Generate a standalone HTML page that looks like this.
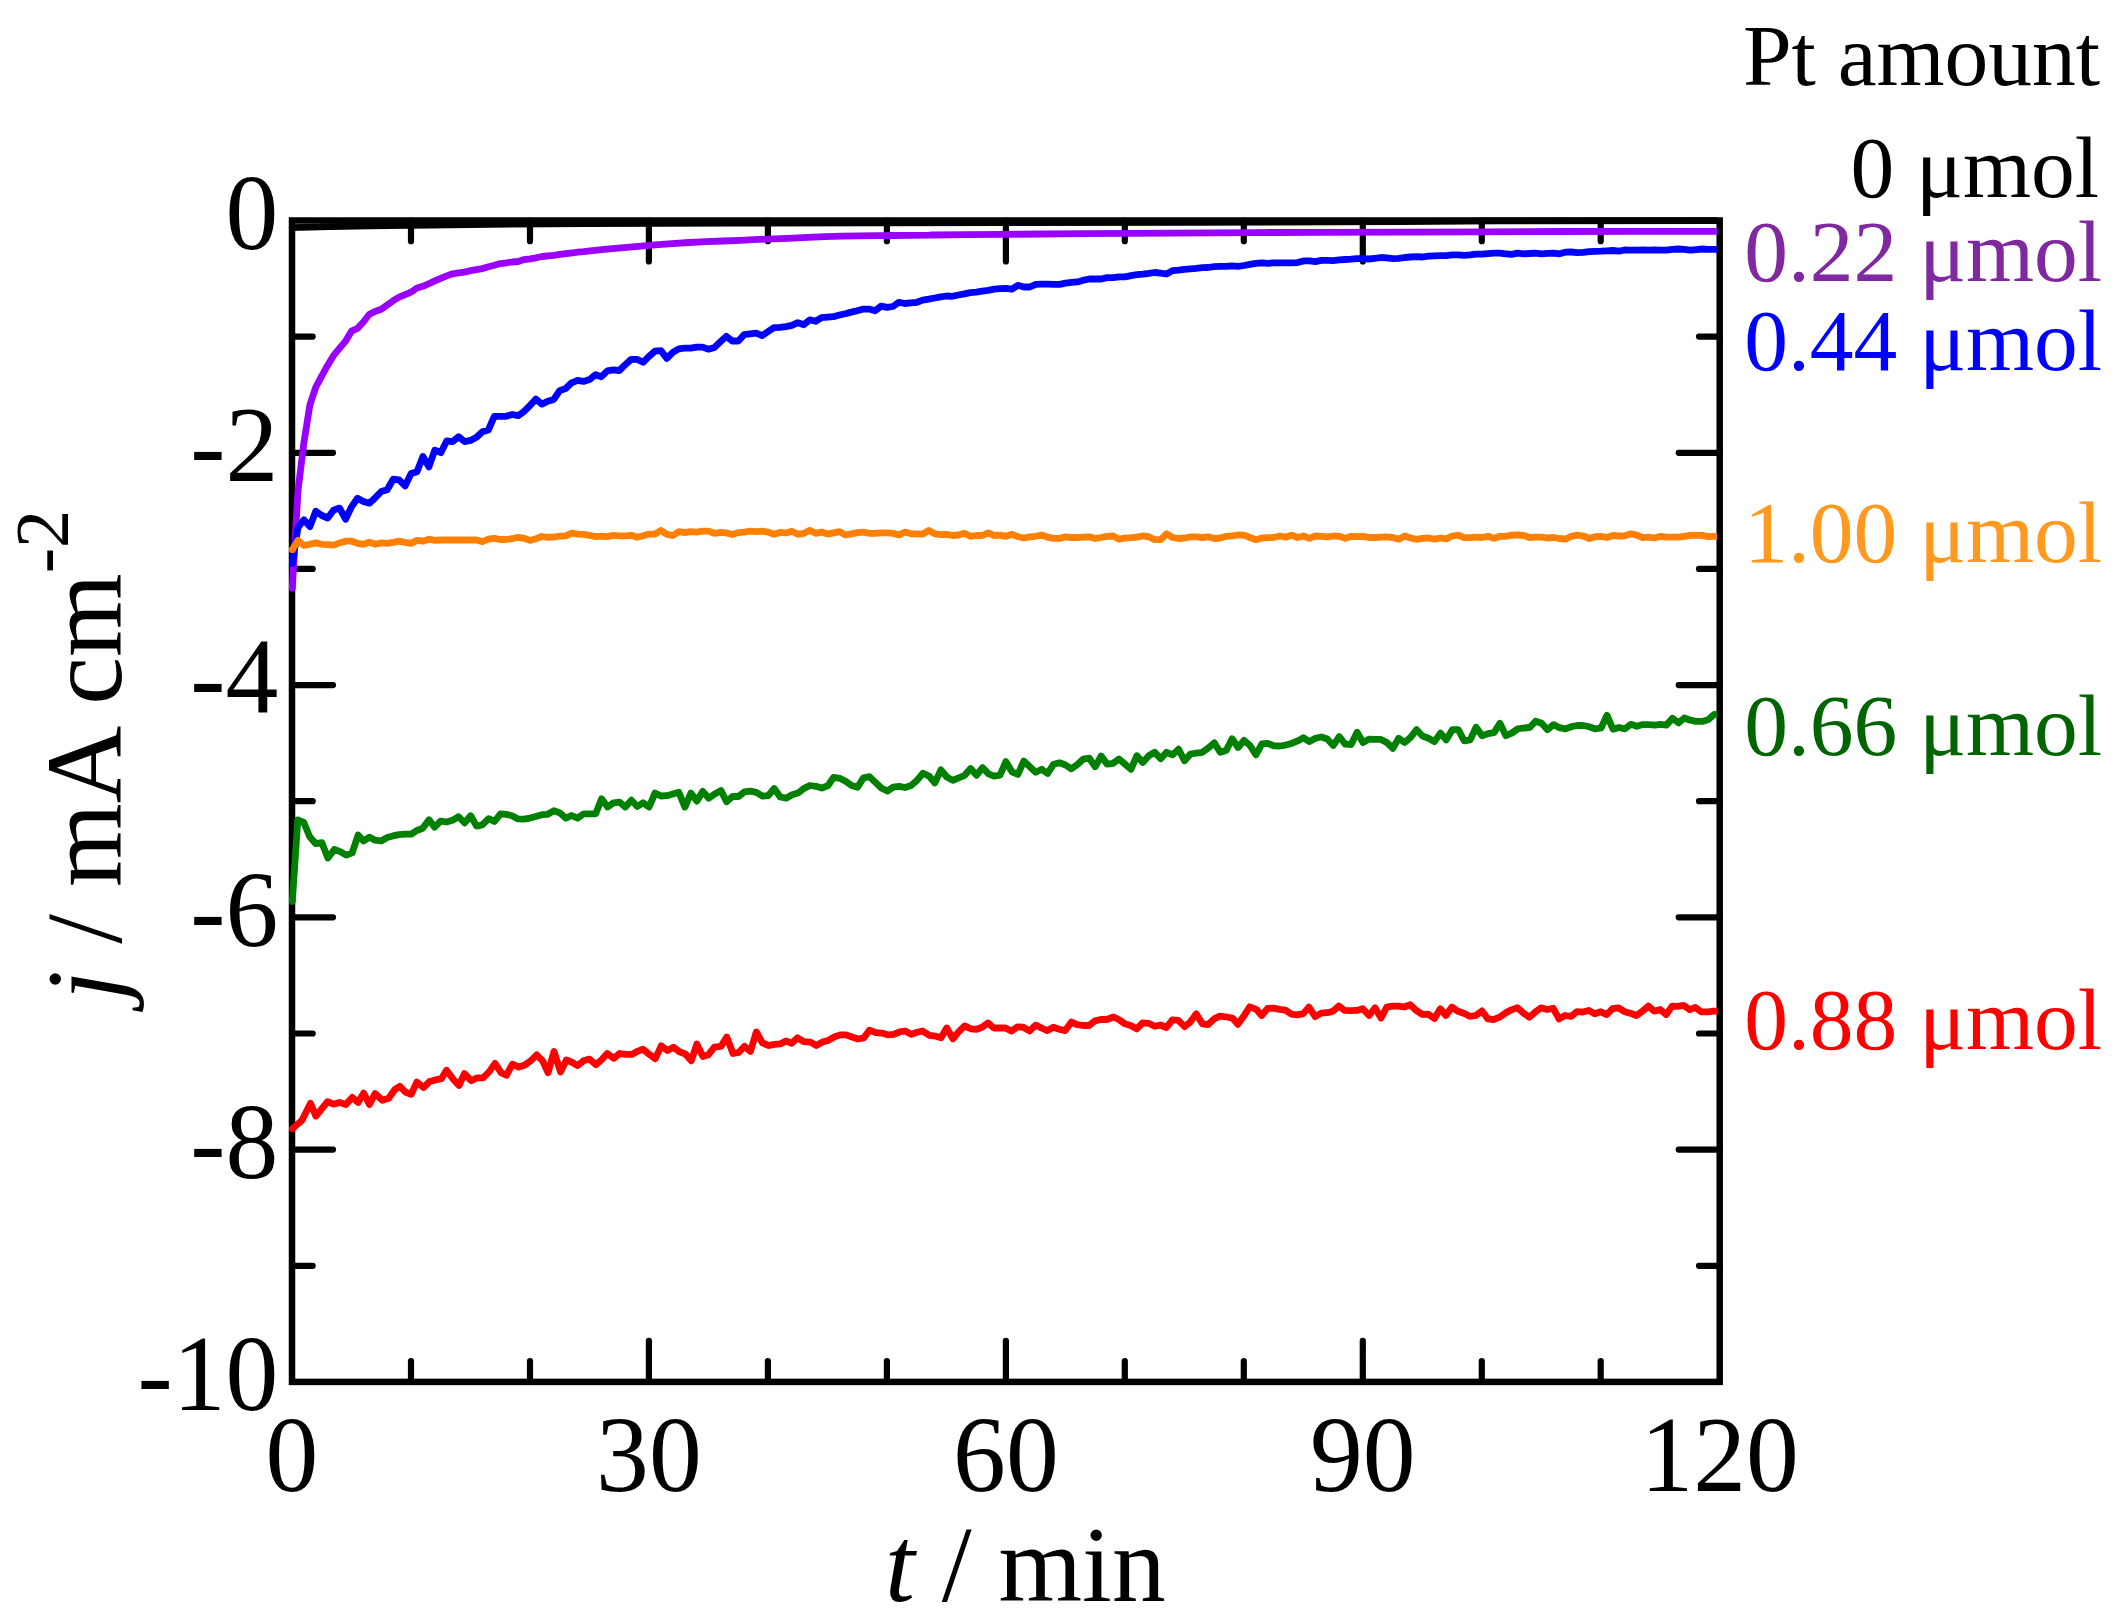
<!DOCTYPE html>
<html><head><meta charset="utf-8"><title>Chronoamperometry</title>
<style>html,body{margin:0;padding:0;background:#fff}svg{display:block}</style></head>
<body>
<svg width="2117" height="1623" viewBox="0 0 2117 1623">
<rect width="2117" height="1623" fill="#fff"/>
<path d="M411.0 1381.9V1361.2M411.0 220.5V241.2M530.0 1381.9V1361.2M530.0 220.5V241.2M648.9 1381.9V1340.9M648.9 220.5V261.5M767.9 1381.9V1361.2M767.9 220.5V241.2M886.9 1381.9V1361.2M886.9 220.5V241.2M1005.9 1381.9V1340.9M1005.9 220.5V261.5M1124.8 1381.9V1361.2M1124.8 220.5V241.2M1243.8 1381.9V1361.2M1243.8 220.5V241.2M1362.8 1381.9V1340.9M1362.8 220.5V261.5M1481.8 1381.9V1361.2M1481.8 220.5V241.2M1600.7 1381.9V1361.2M1600.7 220.5V241.2M292.0 336.6H312.7M1719.7 336.6H1699.0M292.0 452.8H333.0M1719.7 452.8H1678.7M292.0 568.9H312.7M1719.7 568.9H1699.0M292.0 685.1H333.0M1719.7 685.1H1678.7M292.0 801.2H312.7M1719.7 801.2H1699.0M292.0 917.3H333.0M1719.7 917.3H1678.7M292.0 1033.5H312.7M1719.7 1033.5H1699.0M292.0 1149.6H333.0M1719.7 1149.6H1678.7M292.0 1265.8H312.7M1719.7 1265.8H1699.0" stroke="#000" stroke-width="6.2" stroke-linecap="round" fill="none"/>
<rect x="292.0" y="220.5" width="1427.7" height="1161.4" fill="none" stroke="#000" stroke-width="6.5"/>
<path d="M292.3 227.6 L300.0 227.3 L330.0 226.6 L370.0 225.9 L430.0 225.1 L510.0 224.2 L585.0 223.6 L740.0 223.1 L1000.0 222.7 L1200.0 222.4 L1400.0 221.6 L1500.0 220.9 L1717.2 220.6" stroke="#000000" stroke-width="6.8" stroke-linejoin="round" stroke-linecap="butt" fill="none"/>
<circle cx="292.3" cy="227.6" r="3.4" fill="#000000"/>
<path d="M292.3 588.3 L298.0 490.6 L303.9 442.7 L309.9 404.9 L315.8 387.2 L321.8 375.8 L327.7 365.2 L333.7 355.3 L339.6 348.2 L345.6 341.1 L351.5 331.2 L357.5 328.4 L363.4 322.0 L369.4 314.2 L375.3 311.4 L381.3 309.2 L387.2 305.0 L393.2 300.7 L399.1 297.2 L405.1 294.6 L411.0 292.2 L417.0 288.0 L422.9 286.3 L428.9 283.7 L434.8 280.9 L440.8 278.3 L446.7 275.9 L452.7 273.8 L458.7 272.8 L464.6 272.1 L470.6 270.6 L476.5 269.6 L482.5 268.6 L488.4 266.7 L494.4 265.3 L500.3 263.6 L506.3 262.9 L512.2 262.0 L518.2 261.5 L524.1 259.6 L530.1 258.9 L536.0 257.8 L542.0 256.5 L547.9 255.8 L553.9 255.4 L559.8 254.4 L565.8 253.7 L571.7 253.0 L577.7 252.1 L583.6 251.6 L590.4 250.8 L604.0 249.3 L621.0 247.8 L638.0 246.3 L655.0 244.9 L668.6 243.9 L689.0 242.5 L706.0 241.7 L723.0 241.0 L740.1 240.3 L753.7 239.6 L767.3 239.1 L787.7 238.3 L808.1 237.4 L825.1 236.7 L842.1 236.2 L859.1 235.9 L876.1 235.7 L893.1 235.5 L910.1 235.4 L928.8 235.2 L932.0 235.0 L966.0 234.7 L1000.0 234.4 L1042.5 234.0 L1085.1 233.7 L1127.6 233.4 L1170.1 233.2 L1212.6 232.9 L1255.1 232.6 L1273.8 232.5 L1320.0 232.3 L1400.0 232.1 L1485.0 231.8 L1560.0 231.5 L1640.0 231.4 L1717.2 231.3" stroke="#9900ff" stroke-width="6.8" stroke-linejoin="round" stroke-linecap="butt" fill="none"/>
<circle cx="292.3" cy="588.3" r="3.4" fill="#9900ff"/>
<path d="M292.3 563.6 L297.9 527.8 L303.9 519.8 L309.9 526.6 L315.8 511.2 L321.8 515.5 L327.7 518.0 L333.7 510.0 L339.6 508.1 L345.6 519.2 L351.5 506.9 L357.5 498.3 L363.4 501.4 L369.4 503.2 L375.3 497.7 L381.3 491.5 L387.2 489.7 L393.2 479.2 L399.1 479.8 L405.1 486.0 L411.0 473.6 L417.0 471.8 L422.9 456.4 L428.9 466.9 L434.8 450.2 L440.8 452.7 L446.7 441.0 L452.7 441.6 L458.6 436.7 L464.6 441.6 L470.5 440.4 L476.5 437.3 L482.4 431.7 L488.4 429.9 L494.3 416.3 L500.3 416.3 L506.2 416.3 L512.2 414.5 L518.1 415.7 L524.1 411.4 L530.0 405.5 L535.9 399.1 L541.9 404.1 L547.8 401.2 L553.8 399.4 L559.7 390.6 L565.7 388.5 L571.6 382.8 L577.6 380.4 L583.5 381.4 L589.5 379.6 L595.5 374.7 L601.4 376.7 L607.4 370.8 L613.3 369.8 L619.3 370.5 L625.2 364.8 L631.2 359.4 L637.1 359.4 L643.1 362.3 L649.0 356.3 L655.0 351.2 L660.9 350.7 L666.9 358.4 L672.8 352.4 L678.8 348.8 L684.7 348.1 L690.7 348.1 L696.6 347.1 L702.6 347.1 L708.5 349.2 L714.5 347.4 L720.4 341.7 L726.4 336.3 L732.3 341.0 L738.3 341.0 L744.2 334.6 L750.2 333.9 L756.2 333.2 L762.1 335.6 L768.1 331.5 L774.0 327.6 L780.0 327.3 L785.9 326.6 L791.9 325.4 L797.8 322.6 L803.8 324.7 L809.7 319.8 L815.6 321.3 L821.5 317.6 L827.5 317.1 L833.4 316.7 L839.4 315.0 L845.3 313.7 L851.3 312.1 L857.2 310.8 L863.2 309.1 L869.1 309.1 L875.1 310.8 L881.0 306.2 L887.0 307.4 L892.9 306.5 L898.9 302.3 L904.9 303.5 L910.8 302.8 L916.8 302.3 L922.7 300.1 L928.7 299.2 L934.6 298.0 L940.6 296.8 L946.5 296.0 L952.5 296.3 L958.4 295.0 L964.4 293.8 L970.3 292.6 L976.3 292.1 L982.2 291.2 L988.2 290.4 L994.1 289.2 L1000.1 288.7 L1006.0 288.3 L1012.0 289.2 L1017.9 285.3 L1023.9 287.0 L1029.8 287.0 L1035.8 284.4 L1041.7 284.1 L1047.7 284.1 L1053.6 284.4 L1059.6 284.4 L1065.6 283.1 L1071.5 282.4 L1077.5 281.9 L1083.4 280.2 L1089.4 279.0 L1095.3 279.0 L1101.3 279.0 L1107.2 277.6 L1113.2 277.6 L1119.1 276.8 L1125.1 276.8 L1131.0 275.6 L1137.0 274.7 L1142.9 274.2 L1148.9 273.4 L1154.8 272.5 L1160.6 273.1 L1166.5 274.0 L1172.5 270.6 L1178.4 270.1 L1184.4 269.4 L1190.3 268.9 L1196.3 268.4 L1202.2 267.7 L1208.2 267.5 L1214.1 266.7 L1220.1 266.3 L1226.0 266.3 L1232.0 265.8 L1237.9 266.3 L1243.9 265.5 L1249.9 264.3 L1255.8 263.3 L1261.8 262.9 L1267.7 263.3 L1273.7 262.9 L1279.6 262.9 L1285.6 262.9 L1291.5 262.9 L1297.5 262.6 L1303.4 260.9 L1309.4 260.9 L1315.3 261.6 L1321.3 260.4 L1327.2 260.4 L1333.2 260.7 L1339.1 259.9 L1345.1 259.5 L1351.0 259.2 L1357.0 258.7 L1362.9 258.7 L1368.9 259.0 L1374.8 258.3 L1380.8 257.5 L1386.7 257.8 L1392.7 258.7 L1398.6 258.3 L1404.6 257.5 L1410.6 257.0 L1416.5 256.6 L1422.5 257.0 L1428.4 256.1 L1434.4 255.8 L1440.3 255.6 L1446.3 255.6 L1452.2 254.8 L1458.2 254.8 L1464.1 255.3 L1470.1 254.8 L1476.0 254.1 L1482.0 254.1 L1487.9 253.6 L1493.9 253.2 L1499.8 253.2 L1505.8 253.8 L1511.7 254.4 L1517.7 253.2 L1523.6 253.8 L1529.6 253.5 L1535.5 253.2 L1541.5 253.8 L1547.4 253.4 L1553.4 253.2 L1559.4 253.8 L1565.3 252.2 L1571.3 252.0 L1577.2 252.6 L1583.2 252.4 L1589.1 251.6 L1595.1 251.4 L1601.0 251.2 L1607.0 250.8 L1612.9 250.5 L1618.9 251.1 L1624.8 250.0 L1630.8 250.2 L1636.7 250.2 L1642.7 250.0 L1648.6 250.2 L1654.6 250.0 L1660.5 250.2 L1666.5 250.2 L1672.4 249.4 L1678.4 249.0 L1684.3 249.3 L1690.3 250.2 L1696.2 249.6 L1702.2 249.0 L1708.1 249.4 L1714.1 249.4 L1717.2 249.4" stroke="#0000ff" stroke-width="6.8" stroke-linejoin="round" stroke-linecap="butt" fill="none"/>
<circle cx="292.3" cy="563.6" r="3.4" fill="#0000ff"/>
<path d="M292.3 901.4 L297.8 819.8 L303.7 822.3 L309.7 836.8 L315.6 843.6 L321.9 842.7 L327.9 858.0 L334.3 849.5 L340.3 851.6 L346.2 855.1 L352.2 852.9 L358.1 835.1 L363.6 841.0 L369.5 837.1 L375.1 840.2 L381.1 841.0 L387.0 837.6 L393.0 835.9 L398.9 834.6 L404.9 834.2 L411.2 834.2 L416.8 830.5 L422.7 828.3 L429.0 819.8 L434.6 827.1 L440.6 821.1 L446.5 822.0 L452.5 820.3 L458.5 816.7 L464.7 822.8 L470.7 815.8 L476.6 826.1 L482.3 824.9 L488.6 818.6 L494.5 821.5 L500.5 813.8 L506.1 814.3 L512.0 815.8 L518.0 818.9 L523.9 819.2 L529.9 818.1 L535.8 816.4 L541.8 814.7 L547.7 814.3 L554.0 810.7 L560.0 813.0 L565.9 818.1 L571.5 815.5 L577.5 818.1 L583.8 813.8 L589.4 813.8 L595.7 813.8 L601.6 798.8 L607.6 807.0 L613.5 802.8 L619.5 802.2 L625.4 807.0 L631.4 800.2 L637.3 806.5 L643.0 802.8 L649.0 807.1 L655.0 793.1 L660.9 796.0 L666.9 795.7 L672.9 794.0 L678.8 792.3 L684.9 807.1 L690.9 793.1 L696.8 801.1 L702.8 791.4 L708.7 798.2 L714.7 794.0 L721.0 790.6 L726.6 801.6 L732.5 796.5 L738.5 796.5 L744.4 791.8 L750.4 791.1 L756.3 792.3 L762.6 796.2 L768.3 795.7 L774.2 788.5 L780.2 797.0 L786.1 798.2 L792.1 794.8 L798.0 793.1 L804.0 788.4 L809.9 785.5 L815.9 786.3 L821.8 788.0 L827.8 785.8 L833.7 777.3 L839.7 778.3 L845.6 781.2 L851.6 785.5 L857.5 787.2 L863.5 777.8 L869.4 776.6 L875.4 782.4 L881.3 788.0 L887.3 791.1 L893.2 787.2 L899.2 786.3 L905.1 787.5 L911.1 785.5 L917.0 780.4 L923.0 773.2 L929.0 776.1 L934.9 782.9 L940.9 769.8 L946.8 777.0 L952.8 780.4 L958.7 777.8 L964.7 775.3 L970.6 768.5 L976.6 775.3 L982.5 767.6 L988.5 773.9 L994.0 776.1 L1000.0 775.2 L1005.9 761.6 L1011.9 771.8 L1017.9 774.4 L1023.8 761.1 L1029.8 766.7 L1035.7 772.2 L1041.7 769.3 L1047.6 773.5 L1053.6 764.2 L1059.5 762.8 L1065.5 765.0 L1071.4 768.8 L1077.4 764.5 L1083.3 759.1 L1089.3 758.2 L1095.2 766.7 L1101.2 756.0 L1107.1 764.2 L1113.1 763.3 L1119.0 759.1 L1125.0 764.2 L1130.9 769.3 L1136.9 755.7 L1142.8 762.5 L1148.8 755.7 L1154.7 752.3 L1160.7 758.7 L1166.6 752.3 L1172.6 754.8 L1178.6 749.2 L1184.5 760.8 L1190.5 754.0 L1196.4 753.1 L1202.4 752.3 L1208.3 748.0 L1214.3 742.9 L1220.2 752.3 L1226.2 750.6 L1232.1 738.7 L1238.1 747.5 L1244.0 740.4 L1250.0 745.5 L1255.9 754.8 L1261.9 743.8 L1267.8 743.4 L1273.8 745.8 L1279.7 746.0 L1285.7 745.1 L1291.6 743.4 L1297.6 740.9 L1303.5 737.8 L1309.5 741.6 L1315.4 738.3 L1321.4 737.0 L1327.3 739.0 L1333.3 745.5 L1339.2 736.5 L1345.2 744.2 L1351.1 744.5 L1357.1 732.3 L1363.0 742.5 L1369.0 739.1 L1374.9 739.4 L1380.9 739.4 L1386.8 742.5 L1392.8 748.4 L1398.7 738.2 L1404.7 742.5 L1410.6 737.4 L1416.6 729.7 L1422.5 736.0 L1428.5 738.2 L1434.4 741.6 L1440.4 733.1 L1446.3 739.9 L1452.3 729.7 L1458.3 729.7 L1464.2 740.8 L1470.2 739.9 L1476.1 727.2 L1482.1 735.7 L1488.0 733.6 L1494.0 732.6 L1499.9 723.3 L1505.9 735.7 L1511.8 733.1 L1517.8 728.9 L1523.7 728.0 L1529.7 727.5 L1535.6 721.2 L1541.6 723.3 L1547.5 729.7 L1553.5 724.6 L1559.4 727.7 L1565.4 728.9 L1571.3 726.7 L1577.3 725.5 L1583.2 725.5 L1589.2 726.8 L1595.1 728.9 L1601.1 728.0 L1607.0 715.3 L1613.0 729.2 L1619.0 727.5 L1624.9 728.9 L1630.9 724.3 L1636.8 726.3 L1642.8 724.6 L1648.7 724.6 L1654.7 725.1 L1660.6 724.3 L1666.6 725.1 L1672.5 718.3 L1678.5 722.9 L1684.3 718.0 L1690.2 720.2 L1696.2 721.4 L1702.1 721.4 L1708.1 719.7 L1714.0 714.6 L1717.2 714.0" stroke="#008000" stroke-width="6.8" stroke-linejoin="round" stroke-linecap="butt" fill="none"/>
<circle cx="292.3" cy="901.4" r="3.4" fill="#008000"/>
<path d="M292.3 1128.8 L302.0 1120.3 L310.5 1103.3 L315.9 1116.1 L327.5 1101.6 L333.5 1104.2 L339.4 1102.5 L345.9 1104.5 L352.2 1097.4 L358.1 1102.5 L363.6 1093.1 L369.5 1104.5 L375.1 1093.5 L382.3 1100.3 L388.7 1098.2 L394.7 1089.7 L399.8 1086.3 L405.7 1092.3 L411.2 1094.3 L416.8 1082.1 L423.6 1087.5 L429.5 1081.6 L435.5 1079.9 L441.4 1078.7 L446.5 1070.2 L453.4 1079.5 L459.0 1085.5 L464.4 1073.6 L471.2 1080.7 L477.2 1077.8 L483.1 1077.8 L489.1 1071.9 L495.0 1063.4 L501.0 1072.7 L506.4 1075.3 L512.4 1064.2 L518.8 1067.1 L524.8 1065.1 L530.7 1060.8 L536.7 1054.9 L542.6 1060.8 L548.1 1072.7 L554.0 1051.5 L560.5 1071.9 L566.4 1060.0 L572.4 1062.5 L577.5 1065.6 L583.4 1060.8 L589.4 1059.1 L595.9 1064.6 L601.3 1060.0 L607.2 1053.5 L613.7 1058.3 L619.7 1053.5 L626.0 1054.4 L631.9 1054.4 L637.9 1051.1 L642.9 1049.2 L648.8 1054.0 L655.3 1058.6 L661.2 1045.8 L667.5 1050.6 L673.5 1047.2 L679.4 1051.8 L685.4 1054.0 L691.3 1060.8 L696.8 1044.1 L702.9 1056.5 L708.3 1054.8 L714.3 1047.2 L721.1 1046.3 L726.7 1037.0 L733.0 1053.5 L738.9 1052.3 L744.5 1046.3 L750.5 1051.4 L756.3 1031.9 L762.4 1042.9 L768.7 1045.5 L774.6 1044.3 L780.6 1043.8 L786.0 1040.9 L791.7 1043.3 L797.6 1037.8 L803.6 1041.6 L810.4 1042.1 L816.3 1045.5 L822.3 1042.1 L828.2 1040.4 L834.2 1037.0 L840.1 1034.9 L846.1 1034.9 L852.0 1037.0 L858.0 1039.0 L863.9 1037.8 L869.4 1030.2 L875.8 1032.7 L881.8 1033.1 L887.7 1034.8 L893.7 1034.4 L899.6 1031.9 L905.2 1031.0 L911.2 1034.4 L917.1 1032.2 L922.6 1031.0 L929.4 1035.3 L935.3 1036.1 L941.0 1037.8 L946.7 1028.0 L952.9 1038.7 L958.6 1031.9 L964.6 1025.9 L970.7 1028.8 L976.7 1029.3 L982.1 1027.3 L987.9 1022.9 L993.8 1028.0 L999.8 1028.0 L1005.7 1028.0 L1011.3 1031.1 L1017.6 1026.8 L1023.2 1027.2 L1029.5 1030.9 L1035.8 1025.1 L1041.4 1028.0 L1047.4 1030.6 L1053.3 1027.2 L1059.3 1029.2 L1065.2 1030.6 L1071.5 1022.1 L1077.1 1024.6 L1083.1 1025.5 L1089.0 1025.5 L1095.0 1020.9 L1100.9 1019.5 L1106.9 1019.5 L1113.4 1017.0 L1118.8 1019.5 L1124.7 1023.8 L1130.7 1025.5 L1136.7 1028.9 L1142.6 1022.9 L1148.6 1023.3 L1154.8 1026.3 L1160.5 1025.0 L1166.4 1027.5 L1172.4 1019.9 L1178.3 1020.4 L1184.6 1026.7 L1190.2 1022.1 L1196.2 1013.9 L1202.5 1023.8 L1208.1 1024.6 L1214.4 1018.7 L1220.0 1016.1 L1226.8 1017.0 L1232.7 1018.3 L1237.8 1024.3 L1243.8 1016.1 L1249.7 1006.8 L1256.2 1009.3 L1261.6 1015.6 L1267.6 1008.5 L1273.5 1008.1 L1279.5 1009.3 L1285.4 1010.2 L1291.4 1014.1 L1297.4 1014.8 L1303.3 1013.6 L1308.9 1007.1 L1315.2 1016.6 L1321.2 1013.1 L1327.1 1012.7 L1332.9 1011.2 L1338.8 1006.1 L1344.8 1010.4 L1350.7 1010.7 L1356.7 1010.4 L1362.6 1008.7 L1369.1 1015.5 L1375.0 1007.8 L1381.0 1018.0 L1386.8 1007.0 L1392.7 1006.1 L1398.3 1006.1 L1404.3 1007.0 L1410.2 1004.8 L1416.2 1010.4 L1422.1 1014.3 L1428.1 1014.1 L1434.5 1018.5 L1440.3 1008.7 L1445.9 1015.5 L1451.9 1007.0 L1457.8 1011.2 L1463.8 1013.3 L1469.7 1016.3 L1475.7 1015.5 L1482.0 1010.9 L1487.9 1018.9 L1493.6 1019.7 L1499.5 1017.2 L1505.5 1012.9 L1511.4 1009.9 L1517.4 1007.8 L1523.3 1012.9 L1529.3 1017.2 L1535.2 1012.1 L1541.2 1007.8 L1547.1 1009.5 L1553.1 1008.2 L1559.0 1018.9 L1565.0 1015.5 L1571.3 1016.3 L1576.9 1011.6 L1582.8 1012.1 L1588.8 1010.4 L1594.7 1013.8 L1600.7 1011.7 L1606.6 1014.6 L1612.6 1008.7 L1618.5 1007.8 L1624.5 1011.7 L1630.4 1013.3 L1636.4 1015.5 L1642.4 1011.2 L1648.3 1006.1 L1654.3 1011.2 L1660.2 1009.5 L1666.2 1014.6 L1672.1 1006.1 L1677.7 1006.3 L1683.6 1005.4 L1689.9 1009.7 L1695.3 1007.4 L1701.5 1011.9 L1708.0 1011.9 L1713.7 1011.1 L1717.2 1011.1" stroke="#ff0000" stroke-width="6.8" stroke-linejoin="round" stroke-linecap="butt" fill="none"/>
<circle cx="292.3" cy="1128.8" r="3.4" fill="#ff0000"/>
<path d="M292.3 549.7 L297.9 540.4 L303.9 545.5 L309.8 544.3 L315.8 542.9 L321.7 544.3 L327.7 544.6 L333.6 545.1 L339.6 542.9 L345.5 541.2 L351.5 541.2 L357.4 543.3 L363.4 544.3 L369.3 542.1 L375.3 544.3 L381.2 542.9 L387.2 543.3 L393.2 542.4 L399.1 541.2 L405.1 542.4 L411.0 543.4 L417.0 540.4 L422.9 541.2 L428.9 539.2 L434.8 540.4 L440.8 540.0 L446.7 540.0 L452.7 540.0 L458.6 540.0 L464.6 540.0 L470.5 540.0 L476.5 540.0 L482.4 541.6 L488.4 539.2 L494.3 538.3 L500.3 539.5 L506.2 539.5 L512.2 538.7 L518.1 537.3 L524.1 538.3 L530.0 540.4 L536.0 538.7 L541.9 536.5 L547.9 537.3 L553.9 537.0 L559.8 536.1 L565.8 535.8 L571.7 533.2 L577.7 534.1 L583.6 534.4 L589.6 535.3 L595.5 536.6 L601.5 536.1 L607.4 536.6 L613.4 535.3 L619.3 535.8 L625.3 535.8 L631.2 535.3 L637.2 537.3 L643.1 535.8 L649.0 534.1 L655.0 534.1 L660.9 530.4 L666.9 534.3 L672.9 535.5 L678.8 531.6 L684.8 532.6 L690.7 531.7 L696.7 532.1 L702.6 531.2 L708.6 531.2 L714.5 533.3 L720.5 532.4 L726.4 532.9 L732.4 534.6 L738.3 532.6 L744.3 532.1 L750.2 531.2 L756.2 531.6 L762.1 531.2 L768.1 532.1 L774.0 534.3 L780.0 532.4 L785.9 532.9 L791.9 531.2 L797.8 534.3 L803.8 533.3 L809.7 530.4 L815.7 533.3 L821.6 532.1 L827.6 534.1 L833.6 532.9 L839.5 531.6 L845.5 535.0 L851.4 533.8 L857.4 532.6 L863.3 532.1 L869.3 533.3 L875.2 533.4 L881.2 532.9 L887.1 532.9 L893.1 533.4 L899.0 535.0 L905.0 532.1 L910.9 533.8 L916.9 533.8 L922.8 534.1 L928.8 530.4 L934.7 533.8 L940.7 534.6 L946.6 534.3 L952.6 535.5 L958.5 535.0 L964.5 533.3 L970.4 536.3 L976.4 535.5 L982.3 535.5 L988.3 532.9 L994.0 535.5 L1000.0 535.1 L1005.9 536.3 L1011.9 534.3 L1017.9 536.7 L1023.8 538.0 L1029.8 536.8 L1035.7 536.3 L1041.7 535.0 L1047.6 537.2 L1053.6 538.4 L1059.5 538.4 L1065.5 536.8 L1071.4 537.5 L1077.4 537.5 L1083.3 537.2 L1089.3 536.8 L1095.2 538.5 L1101.2 537.5 L1107.1 536.3 L1113.1 536.0 L1119.0 539.2 L1125.0 538.0 L1130.9 537.7 L1136.9 537.2 L1142.8 536.0 L1148.8 536.7 L1154.7 539.7 L1160.7 539.7 L1166.6 533.8 L1172.6 537.5 L1178.6 538.5 L1184.5 538.0 L1190.5 536.8 L1196.4 536.8 L1202.4 537.5 L1208.3 536.8 L1214.3 538.5 L1220.2 538.0 L1226.2 536.3 L1232.1 535.8 L1238.1 535.0 L1244.0 535.1 L1250.0 537.5 L1255.9 539.7 L1261.9 538.0 L1267.8 537.7 L1273.8 537.5 L1279.7 536.0 L1285.7 537.2 L1291.6 535.1 L1297.6 537.5 L1303.5 536.0 L1309.5 538.4 L1315.4 536.0 L1321.4 536.3 L1327.3 536.8 L1333.3 536.0 L1339.2 536.3 L1345.2 538.4 L1351.1 536.3 L1357.1 536.7 L1363.0 536.3 L1369.0 537.5 L1374.9 537.5 L1380.9 537.2 L1386.8 536.8 L1392.8 537.5 L1398.7 539.2 L1404.7 536.0 L1410.6 538.0 L1416.6 539.4 L1422.5 538.4 L1428.5 538.0 L1434.4 539.2 L1440.4 538.0 L1446.3 538.9 L1452.3 536.0 L1458.3 535.1 L1464.2 537.7 L1470.2 537.7 L1476.1 537.2 L1482.1 537.5 L1488.0 536.3 L1494.0 538.4 L1499.9 536.3 L1505.9 536.3 L1511.8 535.1 L1517.8 535.0 L1523.7 535.5 L1529.7 537.5 L1535.6 537.2 L1541.6 537.2 L1547.5 538.0 L1553.5 537.5 L1559.4 538.5 L1565.4 539.2 L1571.3 536.3 L1577.3 535.1 L1583.2 536.0 L1589.2 538.5 L1595.1 536.7 L1601.1 536.3 L1607.0 537.5 L1613.0 535.5 L1619.0 536.0 L1624.9 535.8 L1630.9 533.8 L1636.8 535.1 L1642.8 537.7 L1648.7 537.2 L1654.7 538.0 L1660.6 536.3 L1666.6 537.2 L1672.5 537.2 L1678.5 537.2 L1684.3 536.3 L1690.2 535.4 L1696.2 535.3 L1702.1 535.4 L1708.1 536.6 L1714.0 536.3 L1717.2 536.2" stroke="#ff8000" stroke-width="6.8" stroke-linejoin="round" stroke-linecap="butt" fill="none"/>
<circle cx="292.3" cy="549.7" r="3.4" fill="#ff8000"/>
<g font-family="'Liberation Serif', serif" font-size="105.6" fill="#000">
<text transform="translate(278.3 248.8) scale(1 1.02)" text-anchor="end">0</text>
<text transform="translate(278.3 481.1) scale(1 1.02)" text-anchor="end">-2</text>
<text transform="translate(278.3 713.4) scale(1 1.02)" text-anchor="end">-4</text>
<text transform="translate(278.3 945.6) scale(1 1.02)" text-anchor="end">-6</text>
<text transform="translate(278.3 1177.9) scale(1 1.02)" text-anchor="end">-8</text>
<text transform="translate(278.3 1410.2) scale(1 1.02)" text-anchor="end">-10</text>
<text transform="translate(292.0 1490.8) scale(1 1.02)" text-anchor="middle">0</text>
<text transform="translate(648.9 1490.8) scale(1 1.02)" text-anchor="middle">30</text>
<text transform="translate(1005.9 1490.8) scale(1 1.02)" text-anchor="middle">60</text>
<text transform="translate(1362.8 1490.8) scale(1 1.02)" text-anchor="middle">90</text>
<text transform="translate(1719.7 1490.8) scale(1 1.02)" text-anchor="middle">120</text>
</g>
<g font-family="'Liberation Serif', serif" font-size="107.5" fill="#000">
<text x="1025.3" y="1600.8" text-anchor="middle"><tspan font-style="italic">t</tspan> / min</text>
<text transform="translate(121 755) rotate(-90)" text-anchor="middle"><tspan font-style="italic">j</tspan> / mA cm<tspan font-size="76.5" dy="-52.6">-2</tspan></text>
</g>
<g font-family="'Liberation Serif', serif" font-size="87.5" text-anchor="end">
<text x="2100.2" y="84.8" fill="#000">Pt amount</text>
<text x="2099.1" y="196.8" fill="#000">0 μmol</text>
<text x="2102.2" y="280.6" fill="#8028a0">0.22 μmol</text>
<text x="2102.2" y="370.4" fill="#0000ff">0.44 μmol</text>
<text x="2102.2" y="562.3" fill="#ff9920">1.00 μmol</text>
<text x="2102.2" y="754.5" fill="#006400">0.66 μmol</text>
<text x="2102.2" y="1048.7" fill="#ff0000">0.88 μmol</text>
</g>
</svg>
</body></html>
